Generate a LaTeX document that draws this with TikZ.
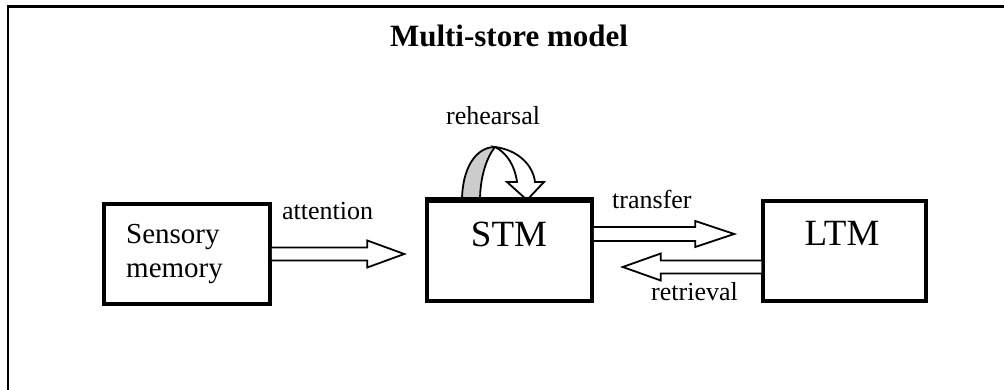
\documentclass[tikz,border=0pt]{standalone}
\usepackage{fontspec}
\setmainfont{Liberation Serif}
\usetikzlibrary{calc}

\tikzset{
  store/.style={draw, line width=3.5pt, rectangle, inner sep=0pt, fill=white},
  storetext/.style={inner sep=0pt, anchor=base, font=\fontsize{37}{40}\selectfont},
  lbl/.style={inner sep=0pt, anchor=base west, font=\fontsize{26}{30}\selectfont},
  blk/.style={draw, fill=white, line width=1.8pt, line join=miter}
}

% hollow block arrow: #1 start, #2 tip (same height), #3 half shaft, #4 half head, #5 head length (signed)
\newcommand\hollowarrow[5]{%
  \draw[blk] let \p1=(#1), \p2=(#2) in
    (\x1,\y1+#3) -- (\x2-#5,\y1+#3) -- (\x2-#5,\y1+#4) -- (\x2,\y1)
    -- (\x2-#5,\y1-#4) -- (\x2-#5,\y1-#3) -- (\x1,\y1-#3);
}

\begin{document}
\begin{tikzpicture}[x=1pt, y=-1pt]
  \useasboundingbox (0,0) rectangle (1004,390);

  % outer frame
  \draw[line width=3pt] (6.5,7) -- (1004,7);
  \draw[line width=1.8pt] (8,7) -- (8,390);

  % title
  \node[inner sep=0pt, anchor=base, font=\fontsize{31}{34}\selectfont\bfseries] (title) at (509,47) {Multi-store model};

  % stores
  \node[store, minimum width=166pt, minimum height=100pt] (sens) at (187,254) {};
  \node[store, minimum width=165pt, minimum height=100pt] (stm) at (509.5,251) {};
  \node[store, minimum width=163pt, minimum height=100pt] (ltm) at (844.5,251) {};

  \node[inner sep=0pt, anchor=base west, align=left, font=\fontsize{29}{34}\selectfont] (senstext) at (126,277) {Sensory\\memory};
  \node[storetext] (stmtext) at (509,247) {STM};
  \node[storetext] (ltmtext) at (842,246) {LTM};

  % connector end points
  \coordinate (attStart) at (sens.east);
  \coordinate (attTip) at ([xshift=-21pt]stm.west |- sens.east);
  \coordinate (trStart) at ([yshift=17pt]stm.east);
  \coordinate (trTip) at ([xshift=-27pt]ltm.west |- trStart);
  \coordinate (reStart) at ([yshift=-16pt]ltm.west);
  \coordinate (reTip) at ([xshift=29pt]stm.east |- reStart);

  \hollowarrow{attStart}{attTip}{6.5}{13.5}{37}
  \hollowarrow{trStart}{trTip}{7}{13}{39}
  \hollowarrow{reStart}{reTip}{6.5}{13.5}{-38}

  \node[lbl] (att) at (282,220) {attention};
  \node[lbl] (tr) at (612,209) {transfer};
  \node[lbl] (re) at (651,300) {retrieval};
  \node[lbl] (reh) at (446,125) {rehearsal};

  % rehearsal loop on top of STM
  \coordinate (lpL) at (462,201);
  \coordinate (lpTop) at (495,147);
  \fill[gray!40] (lpL) .. controls (462,168) and (476,147) .. (lpTop)
     .. controls (487,157) and (480,176) .. (480,201) -- cycle;
  \draw[line width=1.8pt] (lpL) .. controls (462,168) and (476,147) .. (lpTop)
     .. controls (487,157) and (480,176) .. (480,201);
  \draw[blk] (lpTop) .. controls (518,150) and (533,165) .. (535,182)
     -- (544,182) -- (527,200) -- (507,182) -- (517,182)
     .. controls (515,166) and (507,153) .. (lpTop) -- cycle;
  \draw[line width=3.5pt] (stm.north west) -- (stm.north east);
\end{tikzpicture}
\end{document}
